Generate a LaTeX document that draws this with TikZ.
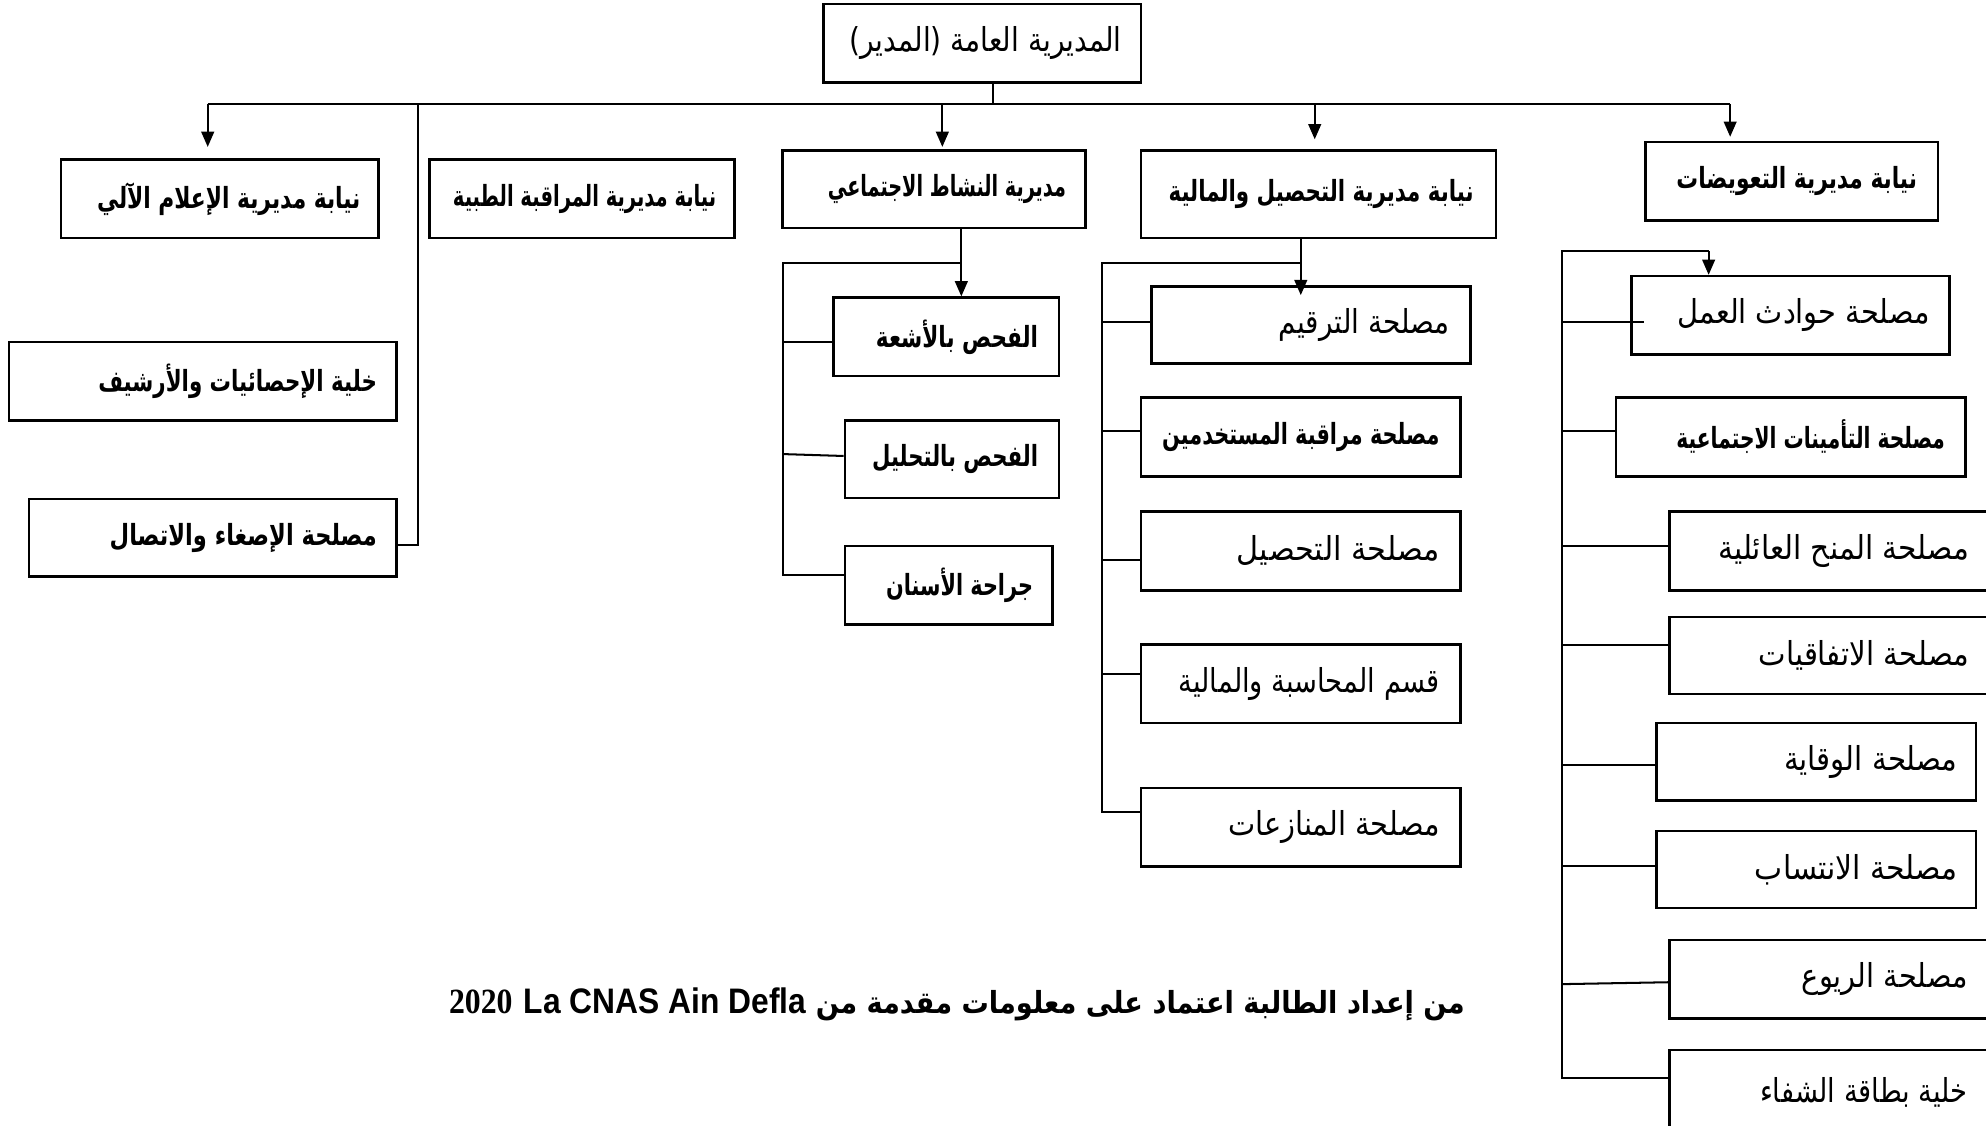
\documentclass[tikz,border=0pt]{standalone}
\usepackage{fontspec}
\usepackage{graphicx}
\usetikzlibrary{arrows.meta}
\TeXXeTstate=1
\setmainfont{Liberation Serif}
\newfontfamily\arreg[Script=Arabic]{DejaVu Sans}
\newfontfamily\arbold[Script=Arabic]{DejaVu Sans Bold}
\newfontfamily\arialfont{Liberation Sans}
\tikzset{
  box/.style={draw, line width=1pt, anchor=north west, inner sep=0pt},
  lbl/.style={anchor=east, inner sep=0pt},
  reg/.style={lbl, font=\arreg\fontsize{13}{15}\selectfont},
  bld/.style={lbl, font=\arbold\fontsize{11.5}{13}\selectfont},
  con/.style={line width=0.8pt},
  arr/.style={con, -{Triangle[width=5pt,length=6pt]}},
}
% #1 name, #2 x1, #3 y1, #4 x2, #5 y2, #6 text style, #7 text right end, #8 text width, #9 text
\newcommand\BOX[9]{%
  \pgfmathsetmacro\bw{(#4-#2)*0.5}%
  \pgfmathsetmacro\bh{(#5-#3)*0.5}%
  \pgfmathsetmacro\tw{#8*0.5}%
  \node[box,minimum width=\bw pt,minimum height=\bh pt] (#1) at (#2,#3) {};
  \node[#6] (#1-t) at (#1.east -| #7,0) {\resizebox{\tw pt}{\height}{#9}};}
\begin{document}
\begin{tikzpicture}[x=0.5pt,y=-0.5pt]
\useasboundingbox (0,0) rectangle (1568,889);
\clip (0,0) rectangle (1568,889);
% boxes
\BOX{top}{649}{2}{900}{64}{reg}{886}{215}{\beginR المديرية العامة (المدير)\endR}
\BOX{info}{47}{125}{298}{187}{bld}{285}{208}{\beginR نيابة مديرية الإعلام الآلي\endR}
\BOX{med}{338}{125}{579}{187}{bld}{566}{208}{\beginR نيابة مديرية المراقبة الطبية\endR}
\BOX{act}{617}{118}{856}{179}{bld}{842}{188}{\beginR مديرية النشاط الاجتماعي\endR}
\BOX{fin}{900}{118}{1180}{187}{bld}{1164}{241}{\beginR نيابة مديرية التحصيل والمالية\endR}
\BOX{comp}{1298}{111}{1529}{173}{bld}{1514}{190}{\beginR نيابة مديرية التعويضات\endR}
\BOX{stat}{6}{269}{312}{331}{bld}{298}{220}{\beginR خلية الإحصائيات والأرشيف\endR}
\BOX{listen}{22}{393}{312}{454}{bld}{298}{211}{\beginR مصلحة الإصغاء والاتصال\endR}
\BOX{xray}{657}{234}{835}{296}{bld}{820}{128}{\beginR الفحص بالأشعة\endR}
\BOX{lab}{666}{331}{835}{392}{bld}{820}{131}{\beginR الفحص بالتحليل\endR}
\BOX{dent}{666}{430}{830}{492}{bld}{816}{116}{\beginR جراحة الأسنان\endR}
\BOX{num}{908}{225}{1160}{286}{reg}{1145}{135}{\beginR مصلحة الترقيم\endR}
\BOX{ctrl}{900}{313}{1152}{375}{bld}{1137}{219}{\beginR مصلحة مراقبة المستخدمين\endR}
\BOX{coll}{900}{403}{1152}{465}{reg}{1137}{160}{\beginR مصلحة التحصيل\endR}
\BOX{acct}{900}{508}{1152}{570}{reg}{1137}{206}{\beginR قسم المحاسبة والمالية\endR}
\BOX{disp}{900}{621}{1152}{683}{reg}{1137}{167}{\beginR مصلحة المنازعات\endR}
\BOX{work}{1287}{217}{1538}{279}{reg}{1524}{199}{\beginR مصلحة حوادث العمل\endR}
\BOX{ins}{1275}{313}{1551}{375}{bld}{1536}{212}{\beginR مصلحة التأمينات الاجتماعية\endR}
\BOX{fam}{1317}{403}{1570}{465}{reg}{1555}{198}{\beginR مصلحة المنح العائلية\endR}
\BOX{conv}{1317}{486}{1570}{547}{reg}{1555}{166}{\beginR مصلحة الاتفاقيات\endR}
\BOX{prev}{1307}{570}{1559}{631}{reg}{1546}{137}{\beginR مصلحة الوقاية\endR}
\BOX{aff}{1307}{655}{1559}{716}{reg}{1546}{160}{\beginR مصلحة الانتساب\endR}
\BOX{rent}{1317}{741}{1570}{803}{reg}{1554}{131}{\beginR مصلحة الريوع\endR}
\BOX{card}{1317}{828}{1570}{895}{reg}{1554}{164}{\beginR خلية بطاقة الشفاء\endR}
% caption
\node[anchor=east, inner sep=0pt, font=\arbold\fontsize{12}{14}\selectfont] (src) at (1157,793)
  {\resizebox{401pt}{\height}{\beginR من إعداد الطالبة اعتماد على معلومات مقدمة من \beginL{\arialfont\bfseries\fontsize{14}{16}\selectfont La CNAS Ain Defla}\endL{}\kern5pt \beginL{\rmfamily\bfseries\fontsize{14}{16}\selectfont 2020}\endL\endR}};
% main bus
\coordinate (bL) at (164,82);
\coordinate (bM) at (330,82);
\coordinate (bA) at (744,82);
\coordinate (bF) at (1038,82);
\coordinate (bR) at (1366,82);
\draw[con] ([xshift=4.25pt]top.south) -- ([xshift=4.25pt]top.south |- bL);
\draw[con] (bL) -- (bR);
\draw[arr] (bL) -- ([yshift=4.5pt]info.north -| bL);
\draw[arr] (bA) -- ([yshift=1pt]act.north -| bA);
\draw[arr] (bF) -- ([yshift=4pt]fin.north -| bF);
\draw[arr] (bR) -- ([yshift=1.5pt]comp.north -| bR);
\coordinate (lj) at (330,430);
\draw[con] (bM) -- (lj) -- (lj -| listen.east);
% social activity group
\coordinate (aT) at (759,208);
\coordinate (aL) at (618,208);
\draw[arr] (act.south -| aT) -- (xray.north -| aT);
\draw[con] (aT) -- (aL) -- ([yshift=4pt]dent.west -| aL) -- ([yshift=4pt]dent.west);
\draw[con] ([yshift=-2pt]xray.west -| aL) -- ([yshift=-2pt]xray.west);
\draw[con] ([yshift=2pt]lab.west -| aL) -- ([yshift=1.25pt]lab.west);
% finance group
\coordinate (fT) at (1027,208);
\coordinate (fL) at (870,208);
\draw[arr] (fin.south -| fT) -- ([yshift=-4pt]num.north -| fT);
\draw[con] (fT) -- (fL) -- ([yshift=6pt]disp.west -| fL) -- ([yshift=6pt]disp.west);
\draw[con] ([yshift=1.25pt]num.west -| fL) -- ([yshift=1.25pt]num.west);
\draw[con] ([yshift=2.5pt]ctrl.west -| fL) -- ([yshift=2.5pt]ctrl.west);
\draw[con] ([yshift=-3.5pt]coll.west -| fL) -- ([yshift=-3.5pt]coll.west);
\draw[con] ([yshift=4pt]acct.west -| fL) -- ([yshift=4pt]acct.west);
% compensation group
\coordinate (rT) at (1349,198);
\coordinate (rL) at (1233,198);
\draw[arr] (rT) -- (work.north -| rT);
\draw[con] (rT) -- (rL) -- ([yshift=5.75pt]card.west -| rL) -- ([yshift=5.75pt]card.west);
\draw[con] ([yshift=-2.5pt]work.west -| rL) -- ([xshift=5.5pt,yshift=-2.5pt]work.west);
\draw[con] ([yshift=2.5pt]ins.west -| rL) -- ([yshift=2.5pt]ins.west);
\draw[con] ([yshift=2pt]fam.west -| rL) -- ([yshift=2pt]fam.west);
\draw[con] ([yshift=4.25pt]conv.west -| rL) -- ([yshift=4.25pt]conv.west);
\draw[con] ([yshift=-1.25pt]prev.west -| rL) -- ([yshift=-1.25pt]prev.west);
\draw[con] ([yshift=1.25pt]aff.west -| rL) -- ([yshift=1.25pt]aff.west);
\draw[con] ([yshift=-2pt]rent.west -| rL) -- ([yshift=-1.25pt]rent.west);
\end{tikzpicture}
\end{document}
